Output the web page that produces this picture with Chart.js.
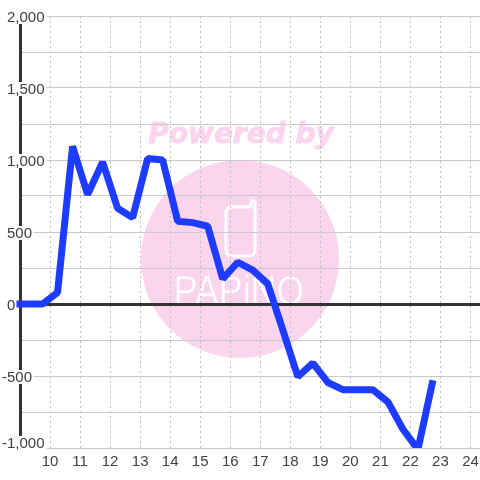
<!DOCTYPE html>
<html>
<head>
<meta charset="utf-8">
<script src="https://cdn.jsdelivr.net/npm/chart.js@4"></script>
<style>
html, body { margin: 0; padding: 0; background: #fff; }
#chart { display: block; }
</style>
</head>
<body>
<canvas id="chart" width="480" height="480"></canvas>
<script>
const hours = [8.75, 9.25, 9.75, 10.25, 10.75, 11.25, 11.75, 12.25, 12.75, 13.25, 13.75, 14.25, 14.75,
    15.25, 15.75, 16.25, 16.75, 17.25, 17.75, 18.25, 18.75, 19.25, 19.75, 20.25, 20.75, 21.25, 21.75, 22.25, 22.75];
const values = [0, 0, 0, 80, 1095, 760, 985, 665, 600, 1010, 1000, 575, 565,
    540, 175, 290, 235, 140, -180, -505, -410, -545, -595, -595, -595, -680, -870, -1010, -530];
const xTicks = [10, 11, 12, 13, 14, 15, 16, 17, 18, 19, 20, 21, 22, 23, 24];
const yTicks = [2000, 1500, 1000, 500, 0, -500, -1000];
const yTickLabels = ["2,000", "1,500", "1,000", "500", "0", "-500", "-1,000"];

const pink = "#fbd5ee";
const textColor = "#404040";
const font = "'Liberation Sans', Arial, sans-serif";

// watermark goes under the grid
const watermark = {
    id: "watermark",
    beforeDraw(chart) {
        const ctx = chart.ctx;
        ctx.save();
        ctx.fillStyle = pink;
        ctx.beginPath();
        ctx.arc(240, 259, 99, 0, Math.PI * 2);
        ctx.fill();

        ctx.font = "italic bold 28px 'DejaVu Sans', sans-serif";
        ctx.textAlign = "center";
        ctx.textBaseline = "alphabetic";
        ctx.fillText("Powered by", 241, 143);
        ctx.strokeStyle = pink;
        ctx.lineWidth = 0.8;
        ctx.strokeText("Powered by", 241, 143);

        ctx.strokeStyle = "#fff";
        ctx.lineWidth = 3;
        ctx.lineCap = "round";
        ctx.lineJoin = "round";
        ctx.beginPath();
        ctx.moveTo(251, 207);
        ctx.lineTo(232, 207);
        ctx.quadraticCurveTo(226, 207, 226, 213);
        ctx.lineTo(226, 250);
        ctx.quadraticCurveTo(226, 256, 232, 256);
        ctx.lineTo(249, 256);
        ctx.quadraticCurveTo(255, 256, 255, 250);
        ctx.lineTo(255, 202);
        ctx.quadraticCurveTo(253, 199, 251, 202);
        ctx.lineTo(251, 207);
        ctx.stroke();

        ctx.fillStyle = "#fff";
        ctx.font = "42px " + font;
        ctx.translate(239, 305);
        ctx.scale(0.85, 1);
        ctx.fillText("PAPiNO", 0, 0);
        ctx.strokeStyle = pink;
        ctx.lineWidth = 0.4;
        ctx.strokeText("PAPiNO", 0, 0);
        ctx.restore();
    },
};

// y labels sit on top of the axis line with a white box behind them
const yLabelBoxes = {
    id: "yLabelBoxes",
    beforeDatasetsDraw(chart) {
        const ctx = chart.ctx;
        const scale = chart.scales.y;
        ctx.save();
        ctx.font = "15px " + font;
        ctx.textAlign = "left";
        ctx.textBaseline = "alphabetic";
        yTicks.forEach((v, i) => {
            const label = yTickLabels[i];
            const x = v < 0 ? 2 : 7;
            let y = scale.getPixelForValue(v);
            if (v === -1000) y -= 6;
            const w = ctx.measureText(label).width;
            ctx.fillStyle = "#fff";
            ctx.fillRect(x - 1, y - 6, w + 3, 14);
            ctx.fillStyle = textColor;
            ctx.fillText(label, x, y + 6);
        });
        ctx.restore();
    },
};

new Chart(document.getElementById("chart"), {
    type: "line",
    data: {
        datasets: [
            {
                data: hours.map((h, i) => ({ x: h, y: values[i] })),
                borderColor: "#1e3cff",
                borderWidth: 7,
                borderJoinStyle: "bevel",
                pointRadius: 0,
                tension: 0,
                clip: { left: 3.5, top: 0, right: 0, bottom: 0 },
            },
        ],
    },
    options: {
        responsive: false,
        animation: false,
        layout: { padding: { left: 0, top: 16, right: 0, bottom: 0 } },
        plugins: {
            legend: { display: false },
            tooltip: { enabled: false },
        },
        scales: {
            x: {
                type: "linear",
                min: 9,
                max: 24.3167,
                afterFit: (scale) => {
                    scale.height = 32;
                    scale.paddingLeft = 0;
                    scale.paddingRight = 0;
                },
                afterBuildTicks: (scale) => {
                    scale.ticks = xTicks.map((v) => ({ value: v }));
                },
                grid: {
                    color: "#c0c0c0",
                    lineWidth: 1,
                    drawTicks: false,
                },
                border: { display: false, dash: [2, 3] },
                ticks: {
                    color: textColor,
                    font: { family: font, size: 15 },
                    padding: 5,
                    maxRotation: 0,
                    autoSkip: false,
                    callback: (v) => String(v),
                },
            },
            y: {
                min: -1000,
                max: 2000,
                afterFit: (scale) => {
                    scale.width = 20;
                },
                grid: {
                    color: (c) => (c.tick.value === 0 ? "#333333" : "#c8c8c8"),
                    lineWidth: (c) => (c.tick.value === 0 ? 3 : 1),
                    drawTicks: false,
                },
                border: { display: true, color: "#333333", width: 3 },
                ticks: {
                    stepSize: 250,
                    display: false,
                },
            },
        },
    },
    plugins: [watermark, yLabelBoxes],
});
</script>
</body>
</html>
